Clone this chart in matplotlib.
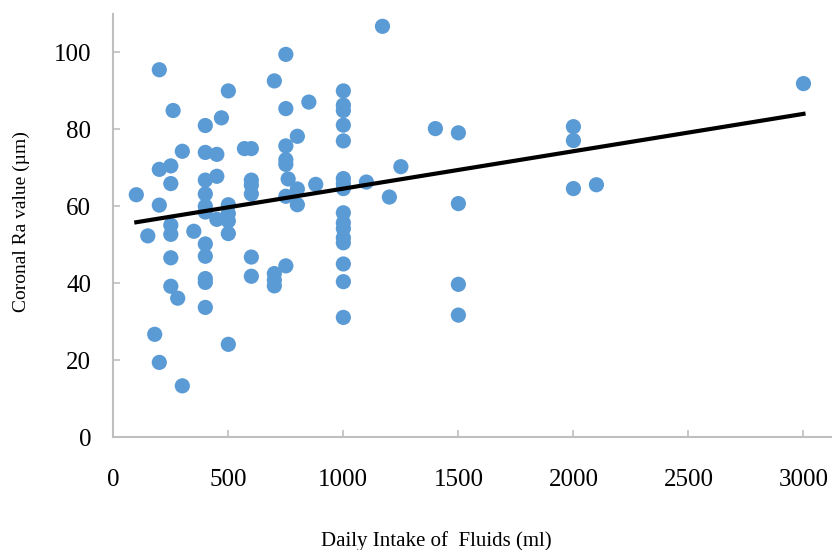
import numpy as np
import matplotlib
matplotlib.use("Agg")
import matplotlib.pyplot as plt

# Daily fluid intake (ml) vs coronal Ra value (um)
intake = [100, 150, 180, 200, 200, 200, 200, 250, 250, 250, 250, 250, 250, 260, 280,
          300, 300, 350, 400, 400, 400, 400, 400, 400, 400, 400, 400, 400, 400,
          450, 450, 450, 470, 500, 500, 500, 500, 500, 500, 570, 600, 600, 600, 600,
          600, 600, 700, 700, 700, 700, 750, 750, 750, 750, 750, 750, 750, 760,
          800, 800, 800, 850, 880, 1000, 1000, 1000, 1000, 1000, 1000, 1000, 1000,
          1000, 1000, 1000, 1000, 1000, 1000, 1000, 1000, 1100, 1170, 1200, 1250,
          1400, 1500, 1500, 1500, 1500, 2000, 2000, 2000, 2100, 3000]
ra_value = [63.0, 52.3, 26.7, 95.5, 69.6, 60.3, 19.4, 70.5, 65.9, 55.1, 52.7, 46.6, 39.2, 84.9, 36.1,
            74.3, 13.3, 53.5, 81.0, 74.0, 66.8, 63.2, 60.0, 58.5, 50.2, 47.0, 41.2, 40.2, 33.7,
            73.5, 67.8, 56.6, 83.0, 90.0, 60.4, 58.1, 56.2, 52.9, 24.1, 75.0, 75.0, 66.8, 65.5, 63.2,
            46.8, 41.8, 92.6, 42.5, 40.8, 39.3, 99.5, 85.4, 75.7, 72.1, 70.9, 62.6, 44.5, 67.1,
            78.2, 64.5, 60.4, 87.1, 65.7, 90.0, 86.3, 84.9, 81.1, 77.0, 67.2, 65.9, 64.6,
            58.3, 55.7, 54.2, 51.8, 50.5, 45.0, 40.4, 31.1, 66.3, 106.8, 62.4, 70.3,
            80.2, 79.1, 60.7, 39.7, 31.7, 80.7, 77.1, 64.6, 65.6, 91.9]

x_ticks = [0, 500, 1000, 1500, 2000, 2500, 3000]
y_ticks = [0, 20, 40, 60, 80, 100]

plt.rcParams['font.family'] = ['Liberation Serif', 'DejaVu Serif']

fig = plt.figure(figsize=(8.32, 5.5), dpi=100)
ax = fig.add_axes([113.3 / 832, 113 / 550, 1 - 113.3 / 832, 423 / 550])

x = np.array(intake, dtype=float)
y = np.array(ra_value)
ax.scatter(x, y, s=120, color='#5B9BD5', edgecolors='none', zorder=2)

# linear trend line
slope, intercept = np.polyfit(x, y, 1)
xs = np.array([x.min(), x.max()])
ax.plot(xs, slope * xs + intercept, color='black', linewidth=3, zorder=3)

ax.set_xlim(0, 3124)
ax.set_ylim(0, 110)
ax.set_xticks(x_ticks)
ax.set_yticks(y_ticks)

for side in ['top', 'right']:
    ax.spines[side].set_visible(False)
for side in ['left', 'bottom']:
    ax.spines[side].set_color('#BFBFBF')
    ax.spines[side].set_linewidth(1.5)

ax.tick_params(axis='both', direction='in', length=5, width=1.2, color='#BFBFBF', labelsize=18)
ax.tick_params(axis='x', pad=23)
ax.tick_params(axis='y', pad=16)

ax.set_xlabel('Daily Intake of  Fluids (ml)', fontsize=15)
ax.set_ylabel('Coronal Ra value (µm)', fontsize=14)
ax.xaxis.set_label_coords(0.450, -0.246)
ax.yaxis.set_label_coords(-0.128, 0.509)
ax.xaxis.label.set_va('center')
ax.yaxis.label.set_va('center')

fig.savefig('out.png', dpi=100)
